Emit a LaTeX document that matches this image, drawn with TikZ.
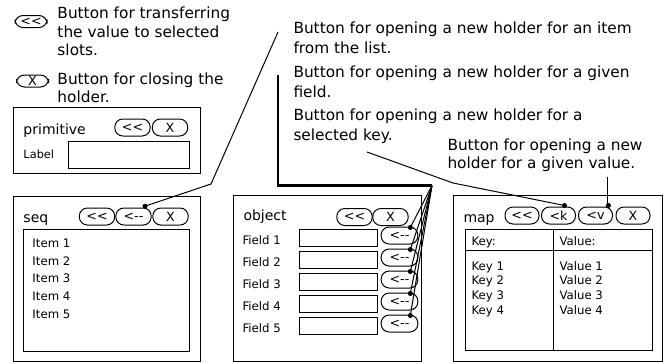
\documentclass[tikz,border=0pt]{standalone}
\usepackage{fontspec}
\setmainfont{DejaVu Sans}

\begin{document}
\begin{tikzpicture}[x=0.75pt,y=-0.75pt,
    every node/.style={inner sep=0pt},
    line width=0.75pt]

    % styles of the widgets
    \tikzstyle{button}=[draw, rounded corners=6pt, minimum width=26.5pt, minimum height=12.75pt, font=\fontsize{9.5}{10}\selectfont]
    \tikzstyle{smallbutton}=[button, minimum width=24pt, minimum height=9pt]
    \tikzstyle{note}=[anchor=north west, align=left, font=\fontsize{11.5}{15}\selectfont]
    \tikzstyle{title}=[anchor=base west, font=\fontsize{10.5}{12}\selectfont]
    \tikzstyle{entry}=[anchor=base west, font=\fontsize{8.8}{10}\selectfont]

    \useasboundingbox (0,0) rectangle (669,362);

    % legend
    \node [smallbutton] (legTransfer) at (31,21.5) {<{}<};
    \node [note, font=\fontsize{11.5}{13.9}\selectfont] (legTransferText) at (57,6.4)
        {Button for transferring\\the value to selected\\slots.};
    \node [smallbutton] (legClose) at (32.5,81) {X};
    \node [note, font=\fontsize{11.5}{13.5}\selectfont] (legCloseText) at (57,72.4)
        {Button for closing the\\holder.};

    % primitive holder
    \draw (13,107) rectangle (200,173);
    \node [title] (primTitle) at (23,134) {primitive};
    \node [button] (primTransfer) at (132.5,127.5) {<{}<};
    \node [button] (primClose) at (170,127.5) {X};
    \node [entry, font=\fontsize{8.5}{10}\selectfont] (primLabel) at (23,158) {Label};
    \draw (68,141) rectangle (189,168);

    % seq holder
    \draw (13,196) rectangle (200,361);
    \node [title] (seqTitle) at (23,222) {seq};
    \node [button] (seqTransfer) at (97,216.5) {<{}<};
    \node [button] (seqOpen) at (133.5,216.5) {<-{}-};
    \node [button] (seqClose) at (170.5,216.5) {X};
    \draw (23,229) rectangle (189,351);
    \foreach \i/\y in {1/247,2/265,3/282.5,4/300,5/318}
        \node [entry] (item\i) at (32,\y) {Item \i};

    % object holder
    \draw (233,195) rectangle (421,361);
    \node [title] (objTitle) at (243,220) {object};
    \node [button] (objTransfer) at (354.5,217) {<{}<};
    \node [button] (objClose) at (390.5,217) {X};
    \foreach \i in {1,...,5}{
        \node [entry] (field\i) at (242,{222+22*\i}) {Field \i};
        \draw (299,{207.3+22*\i}) rectangle (377,{224.8+22*\i});
        \node [button, minimum width=27.5pt] (fieldOpen\i) at (399.5,{213.5+22*\i}) {<-{}-};
    }

    % map holder
    \draw (453,195) rectangle (662,361);
    \node [title] (mapTitle) at (463,222) {map};
    \node [button, minimum width=25.5pt] (mapTransfer) at (522,215.5) {<{}<};
    \node [button, minimum width=25.5pt] (mapKey) at (558.5,215.5) {<k};
    \node [button, minimum width=25.5pt] (mapValue) at (595.5,215.5) {<v};
    \node [button, minimum width=25.5pt] (mapClose) at (633,215.5) {X};
    \draw (465,229) rectangle (652,350);
    \draw (465,250) -- (652,250);
    \draw (553,229) -- (553,350);
    \node [entry] (keyHead) at (471,245.7) {Key:};
    \node [entry] (valueHead) at (559,245.7) {Value:};
    \foreach \i/\y in {1/270,2/284.5,3/299.5,4/314.5}{
        \node [entry] (key\i) at (471,\y) {Key \i};
        \node [entry] (value\i) at (559,\y) {Value \i};
    }

    % notes for the opening buttons
    \node [note] (noteItem) at (293,21.7)
        {Button for opening a new holder for an item\\from the list.};
    \node [note] (noteField) at (293,65.4)
        {Button for opening a new holder for a given\\field.};
    \node [note] (noteKey) at (293,108.4)
        {Button for opening a new holder for a\\selected key.};
    \node [note, font=\fontsize{11.5}{13.5}\selectfont] (noteValue) at (447,138.4)
        {Button for opening a new\\holder for a given value.};

    % connectors
    \coordinate (itemEnd) at (278,32);
    \coordinate (seqDot) at ([xshift=-5pt,yshift=1pt]seqOpen.north east);
    \draw (seqDot) -- (211,184) -- (itemEnd);
    \fill (seqDot) circle (2.5);

    \coordinate (fieldEnd) at (278,75);
    \coordinate (fan) at (432,185.5);
    \draw [line width=1.6pt] (fieldEnd) -- (278,185.5) -- (fan);
    \foreach \i in {1,...,5}{
        \coordinate (fieldDot\i) at ([xshift=-6pt,yshift=-0.75pt]fieldOpen\i.north east);
        \draw (fan) -- (fieldDot\i);
        \fill (fieldDot\i) circle (2.5);
    }

    \coordinate (keyEnd) at (367,152);
    \coordinate (keyDot) at ([xshift=-8.6pt,yshift=0.75pt]mapKey.north east);
    \draw (keyEnd) -- (453,183) -- (keyDot);
    \fill (keyDot) circle (2.5);

    \coordinate (valueEnd) at (607.5,177);
    \coordinate (valueDot) at ([xshift=-3.4pt,yshift=0.75pt]mapValue.north east);
    \draw (valueEnd) -- (valueEnd |- valueDot);
    \fill (valueDot) circle (2.5);

\end{tikzpicture}
\end{document}
